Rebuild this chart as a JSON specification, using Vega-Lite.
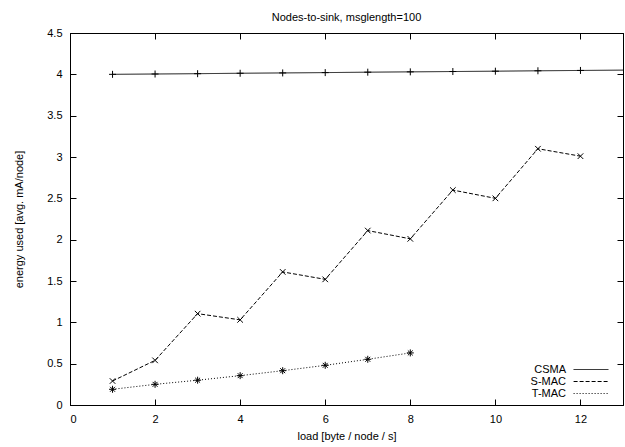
{
  "$schema": "https://vega.github.io/schema/vega-lite/v6.json",
  "autosize": {"type": "none"},
  "padding": {"left": 70, "top": 33, "right": 2, "bottom": 42},
  "width": 553,
  "height": 372,
  "background": "white",
  "title": {"text": "Nodes-to-sink, msglength=100", "font": "Liberation Sans", "fontSize": 11, "fontWeight": "normal", "color": "black", "anchor": "middle", "offset": 4},
  "config": {
    "view": {"stroke": "black", "strokeWidth": 1},
    "axis": {"labelFont": "Liberation Sans", "labelFontSize": 11, "labelColor": "black", "titleFont": "Liberation Sans", "titleFontSize": 11, "titleFontWeight": "normal", "titleColor": "black", "domainColor": "black", "tickColor": "black", "grid": false, "tickSize": -6, "labelPadding": 14}
  },
  "data": {"values": [
    {"series": "CSMA", "x": 1, "y": 4.0},
    {"series": "CSMA", "x": 2, "y": 4.004},
    {"series": "CSMA", "x": 3, "y": 4.008},
    {"series": "CSMA", "x": 4, "y": 4.013},
    {"series": "CSMA", "x": 5, "y": 4.017},
    {"series": "CSMA", "x": 6, "y": 4.021},
    {"series": "CSMA", "x": 7, "y": 4.026},
    {"series": "CSMA", "x": 8, "y": 4.03},
    {"series": "CSMA", "x": 9, "y": 4.034},
    {"series": "CSMA", "x": 10, "y": 4.038},
    {"series": "CSMA", "x": 11, "y": 4.043},
    {"series": "CSMA", "x": 12, "y": 4.047},
    {"series": "CSMA", "x": 13, "y": 4.051},
    {"series": "S-MAC", "x": 1, "y": 0.29},
    {"series": "S-MAC", "x": 2, "y": 0.54},
    {"series": "S-MAC", "x": 3, "y": 1.105},
    {"series": "S-MAC", "x": 4, "y": 1.03},
    {"series": "S-MAC", "x": 5, "y": 1.61},
    {"series": "S-MAC", "x": 6, "y": 1.52},
    {"series": "S-MAC", "x": 7, "y": 2.11},
    {"series": "S-MAC", "x": 8, "y": 2.01},
    {"series": "S-MAC", "x": 9, "y": 2.6},
    {"series": "S-MAC", "x": 10, "y": 2.5},
    {"series": "S-MAC", "x": 11, "y": 3.1},
    {"series": "S-MAC", "x": 12, "y": 3.01},
    {"series": "T-MAC", "x": 1, "y": 0.19},
    {"series": "T-MAC", "x": 2, "y": 0.25},
    {"series": "T-MAC", "x": 3, "y": 0.3},
    {"series": "T-MAC", "x": 4, "y": 0.355},
    {"series": "T-MAC", "x": 5, "y": 0.415},
    {"series": "T-MAC", "x": 6, "y": 0.48},
    {"series": "T-MAC", "x": 7, "y": 0.553},
    {"series": "T-MAC", "x": 8, "y": 0.63}
  ]},
  "layer": [
    {
      "mark": {"type": "line", "color": "black", "strokeWidth": 1, "clip": true},
      "encoding": {
        "x": {"field": "x", "type": "quantitative", "scale": {"domain": [0, 13], "nice": false, "zero": false}, "axis": {"orient": "bottom", "values": [0, 2, 4, 6, 8, 10, 12], "title": "load [byte / node / s]", "titlePadding": 6}},
        "y": {"field": "y", "type": "quantitative", "scale": {"domain": [0, 4.5], "nice": false}, "axis": {"orient": "left", "values": [0, 0.5, 1, 1.5, 2, 2.5, 3, 3.5, 4, 4.5], "format": "~g", "title": "energy used [avg. mA/node]", "titlePadding": 22}},
        "detail": {"field": "series"},
        "strokeDash": {"field": "series", "type": "nominal", "scale": {"domain": ["CSMA", "S-MAC", "T-MAC"], "range": [[1, 0], [4, 2], [1, 2]]},
          "legend": {"title": null, "orient": "none", "legendX": 514.5, "legendY": 330, "symbolType": "M-2.9,0L2.9,0", "symbolSize": 144, "symbolStrokeColor": "black", "symbolFillColor": "transparent", "symbolStrokeWidth": 1, "labelAlign": "right", "labelOffset": -31.5, "labelFont": "Liberation Sans", "labelFontSize": 11, "labelColor": "black", "rowPadding": 0, "padding": 0}}
      }
    },
    {
      "transform": [{"filter": "datum.series === 'CSMA' && datum.x <= 12"}],
      "mark": {"type": "point", "filled": false, "stroke": "black", "strokeWidth": 1, "opacity": 1, "size": 49, "shape": "M-1,0L1,0M0,-1L0,1"},
      "encoding": {
        "x": {"field": "x", "type": "quantitative", "axis": {"orient": "top", "values": [0, 2, 4, 6, 8, 10, 12], "labels": false, "title": null}},
        "y": {"field": "y", "type": "quantitative", "axis": {"orient": "right", "values": [0, 0.5, 1, 1.5, 2, 2.5, 3, 3.5, 4, 4.5], "labels": false, "title": null}}
      }
    },
    {
      "transform": [{"filter": "datum.series === 'S-MAC'"}],
      "mark": {"type": "point", "filled": false, "stroke": "black", "strokeWidth": 1, "opacity": 1, "size": 49, "shape": "M-0.8,-0.8L0.8,0.8M-0.8,0.8L0.8,-0.8"},
      "encoding": {
        "x": {"field": "x", "type": "quantitative", "axis": null},
        "y": {"field": "y", "type": "quantitative", "axis": null}
      }
    },
    {
      "transform": [{"filter": "datum.series === 'T-MAC'"}],
      "mark": {"type": "point", "filled": false, "stroke": "black", "strokeWidth": 1, "opacity": 1, "size": 49, "shape": "M-1,0L1,0M0,-1L0,1M-0.7,-0.7L0.7,0.7M-0.7,0.7L0.7,-0.7"},
      "encoding": {
        "x": {"field": "x", "type": "quantitative", "axis": null},
        "y": {"field": "y", "type": "quantitative", "axis": null}
      }
    }
  ],
  "resolve": {"axis": {"x": "independent", "y": "independent"}}
}
